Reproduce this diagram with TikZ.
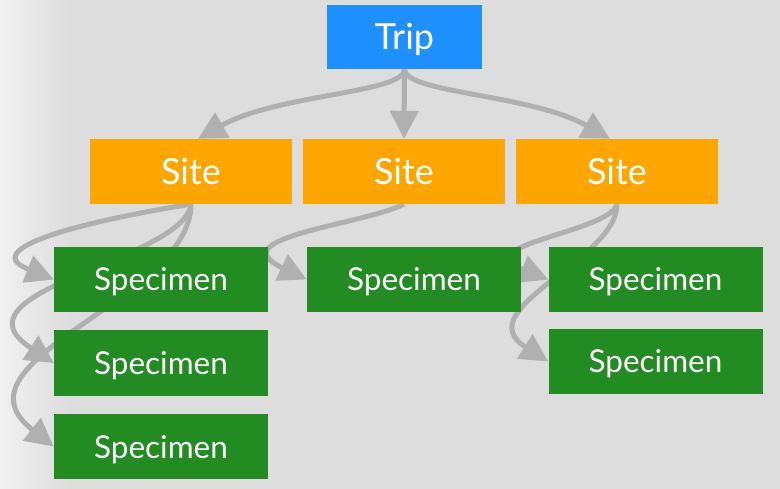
\documentclass[tikz,border=0pt]{standalone}
\usepackage{fontspec}
\setmainfont{Lato}
\usetikzlibrary{arrows.meta,backgrounds}
\definecolor{tripblue}{HTML}{1E90FF}
\definecolor{siteorange}{HTML}{FFA500}
\definecolor{specgreen}{HTML}{228B22}
\definecolor{linkgray}{HTML}{B0B0B0}
\definecolor{bgmain}{HTML}{DDDDDD}
\definecolor{bgleft}{HTML}{F1F1F1}
\begin{document}
\begin{tikzpicture}[x=1pt, y=-1pt]
        \tikzstyle{every node}=[inner sep=0pt, text=white, text depth=0pt]
        \tikzstyle{trip}=[fill=tripblue, minimum width=155pt, minimum height=64pt,
          text height=26pt, font=\fontsize{36}{40}\selectfont]
        \tikzstyle{site}=[fill=siteorange, minimum width=202pt, minimum height=65pt,
          text height=26pt, font=\fontsize{36}{40}\selectfont]
        \tikzstyle{specimen}=[fill=specgreen, minimum width=214pt, minimum height=65pt,
          text height=23pt, font=\fontsize{31.5}{36}\selectfont]
        \tikzstyle{link}=[draw=linkgray, line width=5pt, -{Triangle[length=28pt, width=28pt]}]

        \useasboundingbox (0, 0) rectangle (780, 489);

        \path (404.5, 37) node[trip] (t) {Trip};

        \foreach \i in {0, ..., 2}
        {
          \path (191+\i*213, 171.5) node[site] (s\i) {Site};
        }

        \foreach \j in {0, ..., 2}
        {
          \path (161, 279.5+\j*83.5) node[specimen] (a\j) {Specimen};
        }

        \path (414, 279.5) node[specimen] (b0) {Specimen};

        \foreach \j in {0, 1}
        {
          \path (655.5, 279.5+\j*82) node[specimen] (c\j) {Specimen};
        }

        \begin{pgfonlayer}{background}
          \fill[bgmain] (0, 0) rectangle (780, 489);
          \shade[left color=bgleft, right color=bgmain] (0, 0) rectangle (70, 489);

          \draw[link]
            (t.south) .. controls +(0, 24) and +(80, -45) .. (s0.78);
          \draw[link]
            (t.south) -- (s1.north);
          \draw[link]
            (t.south) .. controls +(0, 24) and +(-80, -45) .. (s2.102);

          \draw[link]
            (s0.south) .. controls +(-71, 11) and +(-85, -34) .. (a0.west);
          \draw[link]
            (s0.south) .. controls +(-6, 56) and +(-110, -72) .. (a1.west);
          \draw[link]
            (s0.south) .. controls +(0, 96) and +(-110, -86) .. (a2.west);

          \draw[link]
            (s1.south) .. controls +(-43, 21) and +(-88, -42) .. (b0.west);

          \draw[link]
            (s2.south) .. controls +(-7, 28) and +(-85, -34) .. (c0.west);
          \draw[link]
            (s2.south) .. controls +(0, 56) and +(-82, -52) .. (c1.west);
        \end{pgfonlayer}
      \end{tikzpicture}
\end{document}
